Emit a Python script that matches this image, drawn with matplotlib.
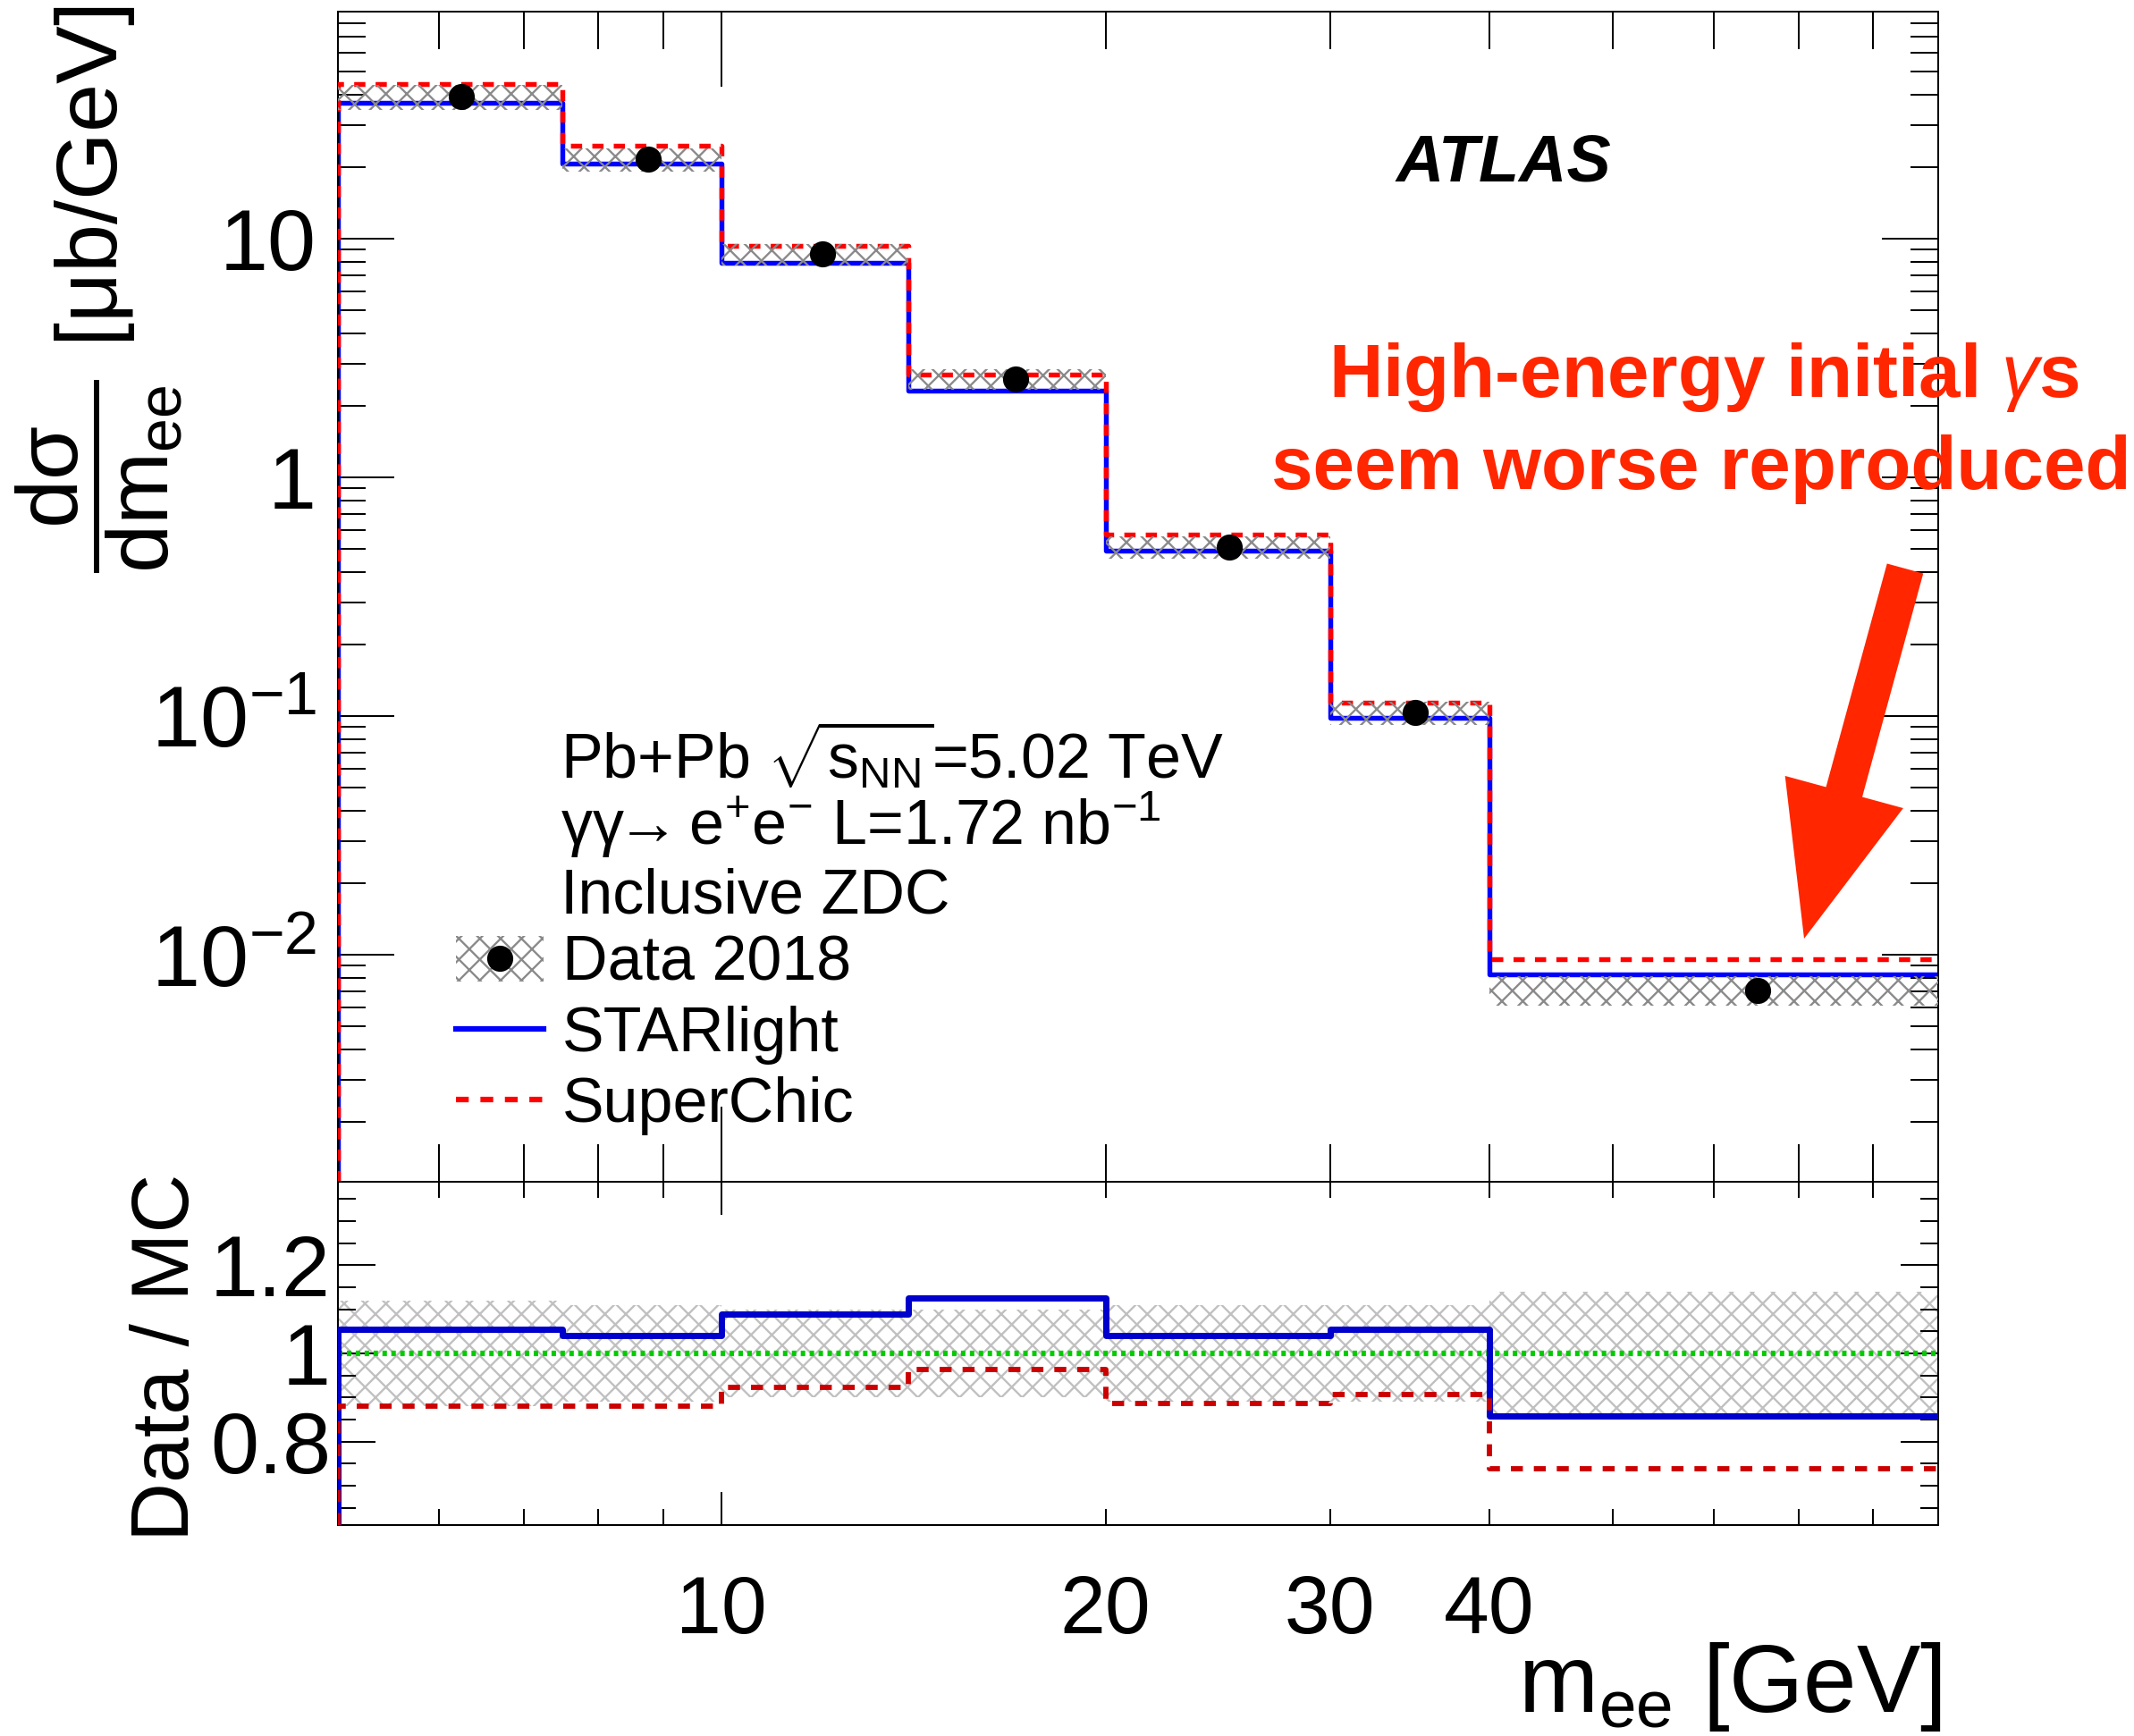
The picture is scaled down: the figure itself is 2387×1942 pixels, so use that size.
import numpy as np
import matplotlib
matplotlib.use("Agg")
import matplotlib.pyplot as plt
from matplotlib.ticker import FixedLocator, FuncFormatter, NullFormatter
from matplotlib.patches import Patch, FancyArrow
from matplotlib.lines import Line2D

plt.rcParams['font.family'] = ['Liberation Sans', 'DejaVu Sans']
plt.rcParams['mathtext.fontset'] = 'custom'
plt.rcParams['mathtext.rm'] = 'Liberation Sans'
plt.rcParams['mathtext.it'] = 'Liberation Sans:italic'
plt.rcParams['mathtext.bf'] = 'Liberation Sans:bold'
plt.rcParams['hatch.linewidth'] = 1.2

# m_ee bins [GeV]
edges = np.array([5, 7.5, 10, 14, 20, 30, 40, 90])
centres = 0.5 * (edges[:-1] + edges[1:])

# dsigma/dm_ee [ub/GeV]
data = np.array([39.2, 21.5, 8.6, 2.59, 0.512, 0.1034, 0.00711])
rel_unc = np.array([0.12, 0.11, 0.10, 0.10, 0.11, 0.11, 0.14])
starlight = np.array([37.2, 20.65, 7.90, 2.30, 0.492, 0.0981, 0.00829])
superchic = np.array([44.5, 24.4, 9.32, 2.69, 0.577, 0.1141, 0.00962])

ratio_star = data / starlight
ratio_sc = data / superchic

ymin, ymax = 1.12e-3, 89.0
rmin, rmax = 0.611, 1.389

W, H, DPI = 2387, 1942, 140
px = 72.0 / DPI  # points per pixel

RED = '#ff2600'
DASH = (0, (2.3, 2.1))


def steps(edges, vals, base):
    xs = [edges[0]]
    ys = [base]
    for i, v in enumerate(vals):
        xs += [edges[i], edges[i + 1]]
        ys += [v, v]
    return np.array(xs), np.array(ys)


fig = plt.figure(figsize=(W / DPI, H / DPI), dpi=DPI)
L, R = 378 / W, 2168 / W
ax = fig.add_axes([L, 1 - 1322 / H, R - L, (1322 - 13.4) / H])
ax2 = fig.add_axes([L, 1 - 1706 / H, R - L, (1706 - 1322) / H])

# ---- main panel
xs, ys = steps(edges, starlight, ymin)
ax.plot(xs, ys, color='#0000ff', lw=2.8, zorder=2)
xs, ys = steps(edges, superchic, ymin)
ax.plot(xs, ys, color='#ff0000', lw=2.8, ls=DASH, zorder=3)
ax.bar(edges[:-1], 2 * rel_unc * data, width=np.diff(edges), bottom=data * (1 - rel_unc),
       align='edge', facecolor='none', edgecolor='#8a8a8a', hatch='xx', lw=0, zorder=4)
ax.plot(centres, data, 'o', color='black', ms=14, zorder=5)

ax.set_xscale('log')
ax.set_yscale('log')
ax.set_xlim(edges[0], edges[-1])
ax.set_ylim(ymin, ymax)

xmajor = [10]
xminor = [6, 7, 8, 9, 20, 30, 40, 50, 60, 70, 80]
xlabelled = [10, 20, 30, 40]
for a in (ax, ax2):
    a.xaxis.set_major_locator(FixedLocator(xmajor))
    a.xaxis.set_minor_locator(FixedLocator(xminor))
    for s in a.spines.values():
        s.set_linewidth(2 * px)

ax.yaxis.set_major_locator(FixedLocator([1e-2, 1e-1, 1, 10]))
ax.yaxis.set_minor_locator(FixedLocator([m * 10.0 ** e for e in range(-3, 2) for m in range(2, 10)
                                         if ymin < m * 10.0 ** e < ymax]))


def ylab(v, pos):
    if v >= 1:
        return '%d' % v
    return r'$10^{%d}$' % int(round(np.log10(v)))


ax.yaxis.set_major_formatter(FuncFormatter(ylab))
ax.yaxis.set_minor_formatter(NullFormatter())
ax.xaxis.set_major_formatter(NullFormatter())
ax.xaxis.set_minor_formatter(NullFormatter())
ax.tick_params(axis='x', which='major', direction='in', top=True, length=84 * px, width=2 * px)
ax.tick_params(axis='x', which='minor', direction='in', top=True, length=42 * px, width=2 * px)
ax.tick_params(axis='y', which='major', direction='in', right=True, length=63 * px, width=2 * px,
               labelsize=50, pad=24 * px)
ax.tick_params(axis='y', which='minor', direction='in', right=True, length=31 * px, width=2 * px)

# text block and legend
ax.text(0.139, 0.345, r'Pb+Pb $\sqrt{\mathrm{s}_{\mathrm{NN}}}$=5.02 TeV', transform=ax.transAxes,
        fontsize=36, va='baseline')
ax.text(0.139, 0.288, r'γγ$\!\!\rightarrow$e$^{+}$e$^{-}$ L=1.72 nb$^{-1}$',
        transform=ax.transAxes, fontsize=36, va='baseline')
ax.text(0.139, 0.230, 'Inclusive ZDC', transform=ax.transAxes, fontsize=36, va='baseline')

h_data = (Patch(facecolor='none', edgecolor='#8a8a8a', hatch='xx', lw=0),
          Line2D([], [], marker='o', color='black', ls='none', ms=14))
h_star = Line2D([], [], color='#0000ff', lw=3.2)
h_sc = Line2D([], [], color='#ff0000', lw=3.2, ls=DASH)
ax.legend([h_data, h_star, h_sc], ['Data 2018', 'STARlight', 'SuperChic'],
          loc='upper left', bbox_to_anchor=(0.0737, 0.211), frameon=False, fontsize=36,
          handlelength=1.4, handleheight=0.75, handletextpad=0.3, labelspacing=0.19,
          borderpad=0, borderaxespad=0)

ax.text(0.7285, 0.870, 'ATLAS', transform=ax.transAxes, fontsize=38, fontweight='bold',
        fontstyle='italic', ha='center', va='center')

# ---- ratio panel
ax2.bar(edges[:-1], 2 * rel_unc, width=np.diff(edges), bottom=1 - rel_unc,
        align='edge', facecolor='none', edgecolor='#c0c0c0', hatch='xx', lw=0, zorder=1)
ax2.axhline(1.0, color='#00cc00', lw=3.2, ls=(0, (0.8, 0.8)), zorder=2)
xs, ys = steps(edges, ratio_star, rmin)
ax2.plot(xs, ys, color='#0000cc', lw=3.6, zorder=3)
xs, ys = steps(edges, ratio_sc, rmin)
ax2.plot(xs, ys, color='#cc0000', lw=3.0, ls=DASH, zorder=3)

ax2.set_xscale('log')
ax2.set_xlim(edges[0], edges[-1])
ax2.set_ylim(rmin, rmax)
ax2.xaxis.set_major_locator(FixedLocator(xmajor))
ax2.xaxis.set_minor_locator(FixedLocator(xminor))
ax2.xaxis.set_major_formatter(FuncFormatter(lambda v, p: '%d' % v))
ax2.xaxis.set_minor_formatter(FuncFormatter(lambda v, p: '%d' % v if v in xlabelled else ''))
ax2.yaxis.set_major_locator(FixedLocator([0.8, 1.0, 1.2]))
ax2.yaxis.set_minor_locator(FixedLocator([0.65, 0.7, 0.75, 0.85, 0.9, 0.95, 1.05, 1.1, 1.15,
                                          1.25, 1.3, 1.35]))
ax2.yaxis.set_major_formatter(FuncFormatter(lambda v, p: '%g' % v))
ax2.tick_params(axis='x', which='major', direction='in', top=True, length=37 * px, width=2 * px,
                labelsize=47, pad=55 * px)
ax2.tick_params(axis='x', which='minor', direction='in', top=True, length=18.5 * px, width=2 * px,
                labelsize=47, pad=55 * px)
ax2.tick_params(axis='y', which='major', direction='in', right=True, length=42 * px, width=2 * px,
                labelsize=50, pad=8 * px)
ax2.tick_params(axis='y', which='minor', direction='in', right=True, length=20 * px, width=2 * px)

# axis titles
fig.text(111 / W, 1 - 6.7 / H,
         r'$\dfrac{\mathrm{d\sigma}}{\mathrm{dm}_{\mathrm{ee}}}$ [$\mathrm{\mu}$b/GeV]',
         rotation=90, ha='center', va='top', fontsize=50)
fig.text(188 / W, 1 - 1518 / H, 'Data / MC', rotation=90, ha='center', va='center', fontsize=47)
fig.text(2172 / W, 1 - 1915 / H, r'm$_{\mathrm{ee}}$ [GeV]', ha='right', va='baseline', fontsize=55)

# annotation
fig.text(1906 / W, 1 - 444 / H, r'High-energy initial $\gamma$s', color=RED, fontsize=43,
         fontweight='bold', ha='center', va='baseline')
fig.text(1903 / W, 1 - 547 / H, 'seem worse reproduced', color=RED, fontsize=43,
         fontweight='bold', ha='center', va='baseline')
ov = fig.add_axes([0, 0, 1, 1], zorder=10)
ov.set_xlim(0, W)
ov.set_ylim(H, 0)
ov.axis('off')
ov.patch.set_alpha(0)
ov.add_patch(FancyArrow(2131, 636, -113, 414, width=42, head_width=137, head_length=170,
                        length_includes_head=True, color=RED, lw=0))

fig.savefig('out.png', dpi=DPI)
